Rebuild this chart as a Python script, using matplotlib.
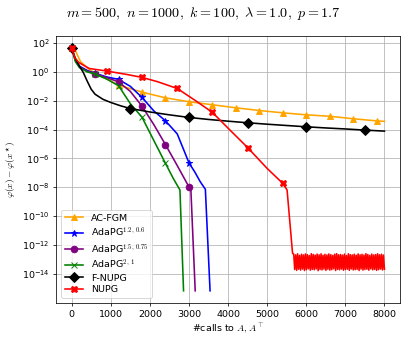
import numpy as np
import matplotlib
matplotlib.use("Agg")
import matplotlib.pyplot as plt
from matplotlib.ticker import NullLocator

# -------------------------------
# data (log10 of the gap)
# -------------------------------
acfgm_x = [0, 100, 230, 420, 600, 870, 1200, 1800, 2400, 3000, 3600, 4200,
           4800, 5400, 6000, 6600, 7200, 7800, 8000]
acfgm_y = [1.65, 1.45, 0.70, 0.24, -0.10, -0.45, -0.92, -1.40, -1.80, -2.07,
           -2.28, -2.49, -2.68, -2.84, -2.98, -3.08, -3.25, -3.40, -3.43]

ada1_x = [0, 100, 200, 400, 600, 900, 1200, 1500, 1800, 2100, 2400, 2700,
          2850, 3000, 3150, 3290, 3420, 3540]
ada1_y = [1.65, 0.80, 0.40, 0.10, -0.10, -0.35, -0.52, -1.00, -1.77, -2.70,
          -3.40, -4.30, -5.30, -6.31, -6.95, -7.63, -8.15, -15.2]

ada2_x = [0, 100, 200, 400, 600, 900, 1200, 1500, 1800, 2100, 2400, 2700,
          3000, 3050, 3160]
ada2_y = [1.65, 0.75, 0.35, 0.05, -0.12, -0.40, -0.69, -1.35, -2.38, -3.65,
          -5.05, -6.50, -7.98, -8.20, -15.2]

ada3_x = [0, 100, 200, 400, 600, 900, 1200, 1500, 1800, 2100, 2400, 2600,
          2770, 2862]
ada3_y = [1.65, 0.70, 0.30, 0.00, -0.15, -0.50, -0.96, -2.20, -3.15, -4.75,
          -6.35, -7.40, -8.20, -15.2]

fnupg_x = [0, 100, 200, 300, 400, 500, 600, 800, 1000, 1250, 1500, 2000,
           2500, 3000, 3500, 4000, 4500, 5000, 5500, 6000, 6500, 7000, 7500,
           8000]
fnupg_y = [1.65, 0.90, 0.40, -0.05, -0.65, -1.20, -1.55, -1.90, -2.12, -2.35,
           -2.54, -2.78, -2.98, -3.16, -3.30, -3.42, -3.53, -3.63, -3.72,
           -3.81, -3.89, -3.96, -4.04, -4.11]

nupg_x = [0, 80, 180, 450, 900, 1400, 1800, 2200, 2700, 3150, 3600, 4050,
          4500, 5000, 5400, 5510, 5650]
nupg_y = [1.65, 1.00, 0.66, 0.24, 0.06, -0.17, -0.38, -0.68, -1.15, -1.96,
          -2.81, -4.04, -5.25, -6.70, -7.74, -8.20, -12.60]

# noisy floor of NUPG after ~5680 calls
nupg_floor = [-12.65, -13.72, -12.70, -13.78, -12.63, -13.70, -12.74, -13.76,
              -12.66, -13.69, -12.71, -13.79, -12.64, -13.73, -12.69, -13.67,
              -12.75, -13.77, -12.62, -13.71, -12.68, -13.74, -12.72, -13.68,
              -12.65, -13.80, -12.70, -13.72, -12.63, -13.75, -12.73, -13.69,
              -12.67, -13.78, -12.71, -13.70, -12.64, -13.76, -12.69, -13.73,
              -12.74, -13.67, -12.66, -13.79, -12.62, -13.71, -12.70, -13.74,
              -12.68, -13.69, -12.72, -13.77, -12.65, -13.72, -12.75, -13.70,
              -12.63, -13.78, -12.69, -13.68, -12.71, -13.75, -12.66, -13.73,
              -12.73, -13.71, -12.64, -13.79, -12.70, -13.69, -12.67, -13.76,
              -12.72, -13.72, -12.62, -13.70, -12.68, -13.77, -12.74, -13.68,
              -12.65, -13.74, -12.71, -13.71, -12.69, -13.78, -12.63, -13.73,
              -12.70, -13.69, -12.66, -13.75, -12.72, -13.70]
floor_x = np.linspace(5680, 8000, len(nupg_floor))

series = [
    ("AC-FGM", acfgm_x, acfgm_y, "orange", "^", 600),
    ("AdaPG$^{1.2,\\,0.6}$", ada1_x, ada1_y, "blue", "*", 600),
    ("AdaPG$^{1.5,\\,0.75}$", ada2_x, ada2_y, "purple", "o", 600),
    ("AdaPG$^{2,\\,1}$", ada3_x, ada3_y, "green", "x", 600),
    ("F-NUPG", fnupg_x, fnupg_y, "black", "D", 1500),
    ("NUPG", nupg_x, nupg_y, "red", "X", 900),
]

# -------------------------------
# plot
# -------------------------------
DPI = 68
fig = plt.figure(figsize=(407 / DPI, 340 / DPI), dpi=DPI)
ax = fig.add_axes([0.1376, 0.109, 0.8454, 0.785])

for name, xs, ys, col, mk, step in series:
    xs = list(xs)
    ys = list(ys)
    marks = [i for i, v in enumerate(xs) if v % step == 0 and v <= 7800]
    if name == "NUPG":
        xs = xs + list(floor_x)
        ys = ys + nupg_floor
    ax.plot(xs, 10.0 ** np.array(ys), color=col, marker=mk, markevery=marks,
            markersize=7, lw=1.7, label=name)

ax.set_yscale("log")
ax.set_yticks([10.0 ** e for e in range(-14, 3, 2)])
ax.yaxis.set_minor_locator(NullLocator())
ax.grid(True, color="#b0b0b0", lw=0.8)
ax.set_xticks(range(0, 8001, 1000))

ax.set_xlabel(r"#calls to $A, A^\top$", math_fontfamily="cm")
ax.set_ylabel(r"$\varphi(x) - \varphi(x^\star)$", math_fontfamily="cm")
fig.suptitle(r"$m=500,\ n=1000,\ k=100,\ \lambda=1.0,\ p=1.7$",
             math_fontfamily="cm", fontsize=15, y=0.985)

leg = ax.legend(loc="lower left", labelspacing=0.3)
for t in leg.get_texts():
    t.set_math_fontfamily("cm")

fig.savefig("out.png", dpi=DPI)
